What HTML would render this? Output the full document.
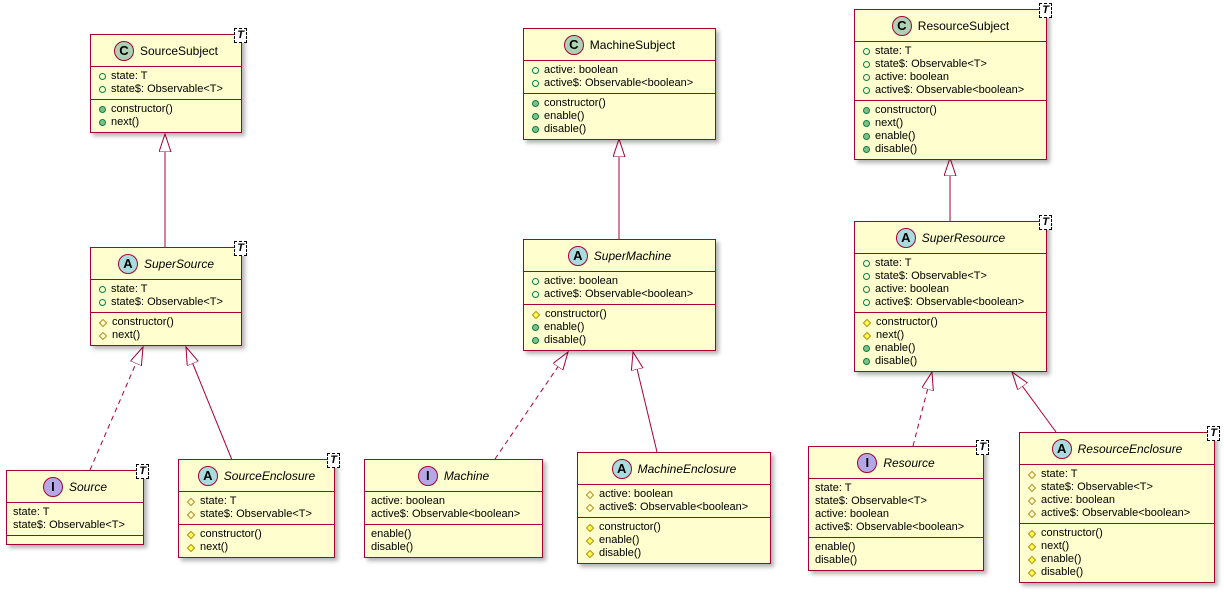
<!DOCTYPE html>
<html><head><meta charset="utf-8"><style>
body{margin:0;width:1225px;height:593px;background:#fff;position:relative;overflow:hidden;font-family:"Liberation Sans",sans-serif;}
.b{position:absolute;background:#FEFECE;border:1.5px solid #A80036;box-sizing:border-box;box-shadow:3px 3px 4px rgba(0,0,0,0.3);font-size:11px;color:#000;}
.h{height:31px;display:flex;align-items:center;justify-content:center;font-size:12px;border-bottom:1px solid #A80036;}
.h i{font-style:italic}
.c{width:20px;height:20px;border-radius:50%;border:1px solid #A80036;box-sizing:border-box;display:inline-flex;align-items:center;justify-content:center;font-weight:bold;font-size:13px;margin-right:6px;font-style:normal}
.C{background:#ADD1B2}.A{background:#A9DCDF}.I{background:#B4A7E5}
.s{padding:3px 0 3px 8px;border-bottom:1px solid #A80036;}
.s:last-child{border-bottom:none}
.r{height:13px;line-height:13px;white-space:nowrap;display:flex;align-items:center}
.po,.pf,.do,.df{display:inline-block;margin-right:5px;box-sizing:border-box}
.po{width:7px;height:7px;border-radius:50%;border:1px solid #038048}
.pf{width:7px;height:7px;border-radius:50%;background:#84BE84;border:1px solid #038048}
.do{width:6px;height:6px;transform:rotate(45deg);border:1px solid #B38D22;margin-left:1px;margin-right:6px}
.df{width:6px;height:6px;transform:rotate(45deg);border:1px solid #B38D22;background:#FFFF44;margin-left:1px;margin-right:6px}
.t{position:absolute;right:-6px;top:-7px;background:#fff;border:1px dashed #000;font-size:11px;font-style:italic;font-weight:bold;padding:0 2px;line-height:13px}
svg{position:absolute;left:0;top:0}
</style></head><body>
<svg width="1225" height="593">
<defs><marker id="m" markerUnits="userSpaceOnUse" markerWidth="20" markerHeight="14" refX="18" refY="6" orient="auto"><path d="M18,6 L0,0 L0,12 Z" fill="#fff" stroke="#A80036"/></marker></defs>
<g stroke="#A80036" stroke-width="1" fill="none">
<line x1="165" y1="247" x2="165" y2="134" marker-end="url(#m)"/>
<line x1="90" y1="470" x2="143" y2="347" stroke-dasharray="5,4" marker-end="url(#m)"/>
<line x1="232" y1="460" x2="186" y2="347" marker-end="url(#m)"/>
<line x1="619" y1="240" x2="619" y2="139" marker-end="url(#m)"/>
<line x1="495" y1="459" x2="568" y2="352" stroke-dasharray="5,4" marker-end="url(#m)"/>
<line x1="657" y1="452" x2="633" y2="352" marker-end="url(#m)"/>
<line x1="950" y1="221" x2="950" y2="158" marker-end="url(#m)"/>
<line x1="913" y1="446" x2="932" y2="372" stroke-dasharray="5,4" marker-end="url(#m)"/>
<line x1="1056" y1="432" x2="1012" y2="372" marker-end="url(#m)"/>
</g></svg>

<div class="b" style="left:90px;top:34px;width:152px"><span class="t">T</span>
<div class="h"><span class="c C">C</span>SourceSubject</div>
<div class="s"><div class="r"><span class="po"></span>state: T</div><div class="r"><span class="po"></span>state$: Observable&lt;T&gt;</div></div>
<div class="s"><div class="r"><span class="pf"></span>constructor()</div><div class="r"><span class="pf"></span>next()</div></div></div>

<div class="b" style="left:90px;top:247px;width:152px"><span class="t">T</span>
<div class="h"><span class="c A">A</span><i>SuperSource</i></div>
<div class="s"><div class="r"><span class="po"></span>state: T</div><div class="r"><span class="po"></span>state$: Observable&lt;T&gt;</div></div>
<div class="s"><div class="r"><span class="do"></span>constructor()</div><div class="r"><span class="do"></span>next()</div></div></div>

<div class="b" style="left:6px;top:470px;width:138px"><span class="t">T</span>
<div class="h"><span class="c I">I</span><i>Source</i></div>
<div class="s" style="padding-left:6px"><div class="r">state: T</div><div class="r">state$: Observable&lt;T&gt;</div></div>
<div class="s" style="height:8px;padding:0"></div></div>

<div class="b" style="left:178px;top:459px;width:157px"><span class="t">T</span>
<div class="h"><span class="c A">A</span><i>SourceEnclosure</i></div>
<div class="s"><div class="r"><span class="do"></span>state: T</div><div class="r"><span class="do"></span>state$: Observable&lt;T&gt;</div></div>
<div class="s"><div class="r"><span class="df"></span>constructor()</div><div class="r"><span class="df"></span>next()</div></div></div>

<div class="b" style="left:523px;top:28px;width:193px">
<div class="h"><span class="c C">C</span>MachineSubject</div>
<div class="s"><div class="r"><span class="po"></span>active: boolean</div><div class="r"><span class="po"></span>active$: Observable&lt;boolean&gt;</div></div>
<div class="s"><div class="r"><span class="pf"></span>constructor()</div><div class="r"><span class="pf"></span>enable()</div><div class="r"><span class="pf"></span>disable()</div></div></div>

<div class="b" style="left:523px;top:239px;width:193px">
<div class="h"><span class="c A">A</span><i>SuperMachine</i></div>
<div class="s"><div class="r"><span class="po"></span>active: boolean</div><div class="r"><span class="po"></span>active$: Observable&lt;boolean&gt;</div></div>
<div class="s"><div class="r"><span class="df"></span>constructor()</div><div class="r"><span class="pf"></span>enable()</div><div class="r"><span class="pf"></span>disable()</div></div></div>

<div class="b" style="left:364px;top:459px;width:179px">
<div class="h"><span class="c I">I</span><i>Machine</i></div>
<div class="s" style="padding-left:6px"><div class="r">active: boolean</div><div class="r">active$: Observable&lt;boolean&gt;</div></div>
<div class="s" style="padding-left:6px"><div class="r">enable()</div><div class="r">disable()</div></div></div>

<div class="b" style="left:577px;top:452px;width:194px">
<div class="h"><span class="c A">A</span><i>MachineEnclosure</i></div>
<div class="s"><div class="r"><span class="do"></span>active: boolean</div><div class="r"><span class="do"></span>active$: Observable&lt;boolean&gt;</div></div>
<div class="s"><div class="r"><span class="df"></span>constructor()</div><div class="r"><span class="df"></span>enable()</div><div class="r"><span class="df"></span>disable()</div></div></div>

<div class="b" style="left:854px;top:9px;width:193px"><span class="t">T</span>
<div class="h"><span class="c C">C</span>ResourceSubject</div>
<div class="s"><div class="r"><span class="po"></span>state: T</div><div class="r"><span class="po"></span>state$: Observable&lt;T&gt;</div><div class="r"><span class="po"></span>active: boolean</div><div class="r"><span class="po"></span>active$: Observable&lt;boolean&gt;</div></div>
<div class="s"><div class="r"><span class="pf"></span>constructor()</div><div class="r"><span class="pf"></span>next()</div><div class="r"><span class="pf"></span>enable()</div><div class="r"><span class="pf"></span>disable()</div></div></div>

<div class="b" style="left:854px;top:221px;width:193px"><span class="t">T</span>
<div class="h"><span class="c A">A</span><i>SuperResource</i></div>
<div class="s"><div class="r"><span class="po"></span>state: T</div><div class="r"><span class="po"></span>state$: Observable&lt;T&gt;</div><div class="r"><span class="po"></span>active: boolean</div><div class="r"><span class="po"></span>active$: Observable&lt;boolean&gt;</div></div>
<div class="s"><div class="r"><span class="df"></span>constructor()</div><div class="r"><span class="df"></span>next()</div><div class="r"><span class="pf"></span>enable()</div><div class="r"><span class="pf"></span>disable()</div></div></div>

<div class="b" style="left:808px;top:446px;width:176px"><span class="t">T</span>
<div class="h"><span class="c I">I</span><i>Resource</i></div>
<div class="s" style="padding-left:6px"><div class="r">state: T</div><div class="r">state$: Observable&lt;T&gt;</div><div class="r">active: boolean</div><div class="r">active$: Observable&lt;boolean&gt;</div></div>
<div class="s" style="padding-left:6px"><div class="r">enable()</div><div class="r">disable()</div></div></div>

<div class="b" style="left:1019px;top:432px;width:196px"><span class="t">T</span>
<div class="h"><span class="c A">A</span><i>ResourceEnclosure</i></div>
<div class="s"><div class="r"><span class="do"></span>state: T</div><div class="r"><span class="do"></span>state$: Observable&lt;T&gt;</div><div class="r"><span class="do"></span>active: boolean</div><div class="r"><span class="do"></span>active$: Observable&lt;boolean&gt;</div></div>
<div class="s"><div class="r"><span class="df"></span>constructor()</div><div class="r"><span class="df"></span>next()</div><div class="r"><span class="df"></span>enable()</div><div class="r"><span class="df"></span>disable()</div></div></div>
</body></html>
